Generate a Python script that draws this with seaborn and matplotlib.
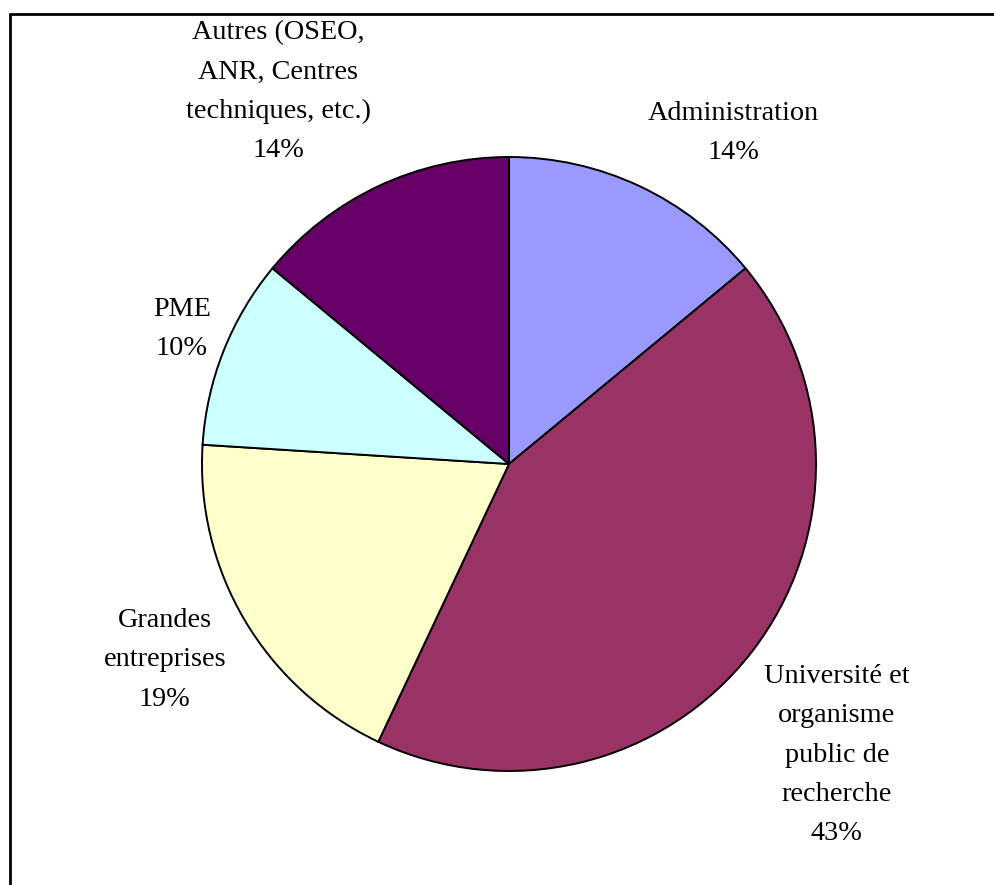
import matplotlib
matplotlib.use("Agg")
import matplotlib.pyplot as plt
from matplotlib.lines import Line2D
import seaborn as sns

# Répartition des partenaires
categories = [
    "Administration",
    "Université et\norganisme\npublic de\nrecherche",
    "Grandes\nentreprises",
    "PME",
    "Autres (OSEO,\nANR, Centres\ntechniques, etc.)",
]
shares = [14, 43, 19, 10, 14]
colors = ["#9999FF", "#993366", "#FFFFCC", "#CCFFFF", "#660066"]

# label block centres, in pie radius units
label_pos = [(0.730, 1.078), (1.068, -0.948), (-1.121, -0.638),
             (-1.065, 0.440), (-0.752, 1.212)]

sns.set_style("white")
plt.rcParams["font.family"] = ["Liberation Serif", "DejaVu Serif"]

W, H, DPI = 994, 885, 100
fig = plt.figure(figsize=(W / DPI, H / DPI), dpi=DPI)

cx, cy, r = 509, 464, 307
ax = fig.add_axes([(cx - r) / W, (H - cy - r) / H, 2 * r / W, 2 * r / H])

wedges, _ = ax.pie(
    shares,
    colors=colors,
    startangle=90,
    counterclock=False,
    radius=1.0,
    wedgeprops=dict(edgecolor="black", linewidth=1.4),
)
ax.set_xlim(-1, 1)
ax.set_ylim(-1, 1)
ax.set_aspect("equal")
ax.axis("off")

for name, val, (x, y) in zip(categories, shares, label_pos):
    ax.text(x, y, f"{name}\n{val}%", ha="center", va="center",
            fontsize=20.3, linespacing=1.75, color="black", clip_on=False)

# chart area frame (left and top edges)
x0 = 10 / W
y0 = 1 - 14 / H
fig.add_artist(Line2D([x0, x0], [-0.1, y0], transform=fig.transFigure,
                      color="black", linewidth=2.0))
fig.add_artist(Line2D([x0, 1.1], [y0, y0], transform=fig.transFigure,
                      color="black", linewidth=2.0))

fig.savefig("out.png", dpi=DPI, facecolor="white")
